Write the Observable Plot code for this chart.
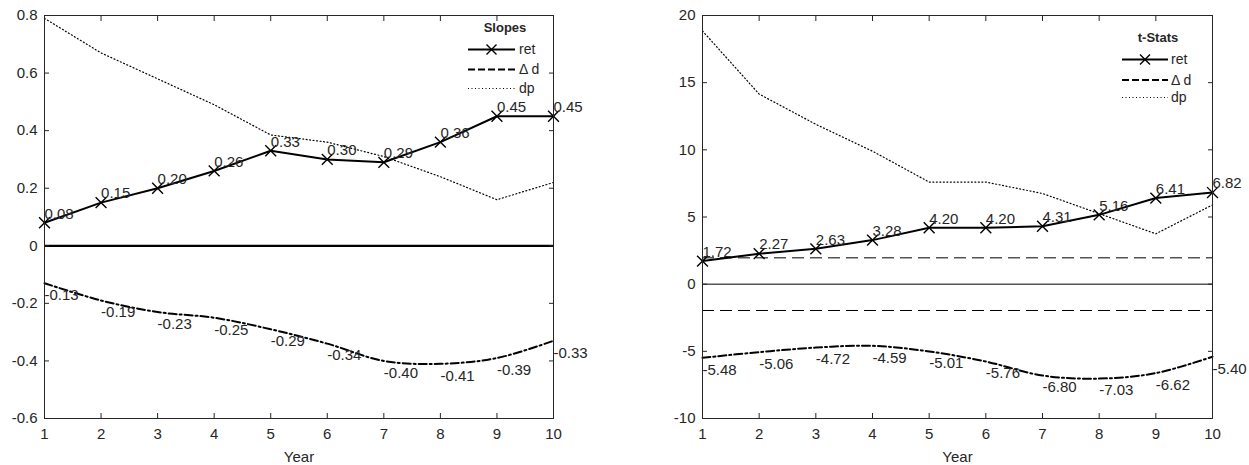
<!DOCTYPE html>
<html>
<head>
<meta charset="utf-8">
<script src="https://cdn.jsdelivr.net/npm/d3@7"></script>
<script src="https://cdn.jsdelivr.net/npm/@observablehq/plot@0.6"></script>
<style>
  html, body { margin: 0; padding: 0; background: #fff; }
  #wrap { position: relative; width: 1249px; height: 465px; overflow: hidden; font-family: "Liberation Sans", Arial, sans-serif; }
  #wrap > svg, #wrap > figure { position: absolute; top: 0; margin: 0; }
</style>
</head>
<body>
<div id="wrap"></div>
<script>
// ---- data ----
const years = [1, 2, 3, 4, 5, 6, 7, 8, 9, 10];

const slopesRet = [0.08, 0.15, 0.20, 0.26, 0.33, 0.30, 0.29, 0.36, 0.45, 0.45];
const slopesDd  = [-0.13, -0.19, -0.23, -0.25, -0.29, -0.34, -0.40, -0.41, -0.39, -0.33];
const slopesDp  = [0.79, 0.67, 0.58, 0.49, 0.385, 0.36, 0.31, 0.24, 0.16, 0.22];

const tRet = [1.72, 2.27, 2.63, 3.28, 4.20, 4.20, 4.31, 5.16, 6.41, 6.82];
const tDd  = [-5.48, -5.06, -4.72, -4.59, -5.01, -5.76, -6.80, -7.03, -6.62, -5.40];
const tDp  = [18.85, 14.15, 11.9, 9.9, 7.6, 7.6, 6.75, 5.25, 3.75, 5.9];

const tCritical = [-1.96, 1.96];

const slopesTicks = [-0.6, -0.4, -0.2, 0, 0.2, 0.4, 0.6, 0.8];
const tTicks = [-10, -5, 0, 5, 10, 15, 20];

const legendTitles = ["Slopes", "t-Stats"];
const legendLabels = ["ret", "\u0394 d", "dp"];

// ---- helpers ----
const ink = "#262626";
const fmt2 = v => v.toFixed(2);               // hyphen-minus like the source
const fmtTick = v => String(+(+v).toFixed(1));

function panel({ret, dd, dp, yDomain, yTicks, zeroWidth, crit, width, marginLeft, marginRight}) {
  const rows = years.map((x, i) => ({x, ret: ret[i], dd: dd[i], dp: dp[i]}));
  return Plot.plot({
    width, height: 465,
    marginTop: 15, marginBottom: 47, marginLeft, marginRight,
    style: {fontFamily: "'Liberation Sans', Arial, sans-serif", fontSize: "15px", color: ink, background: "transparent", overflow: "visible"},
    x: {domain: [1, 10]},
    y: {domain: yDomain},
    marks: [
      Plot.ruleY([0], {stroke: "black", strokeWidth: zeroWidth}),
      crit ? Plot.ruleY(crit, {stroke: "black", strokeWidth: 1, strokeDasharray: "12,6"}) : null,
      Plot.line(rows, {x: "x", y: "dp", stroke: "black", strokeWidth: 1.2, strokeDasharray: "1,2.5"}),
      Plot.line(rows, {x: "x", y: "dd", stroke: "black", strokeWidth: 2, strokeDasharray: "8,3,2,3", curve: "catmull-rom"}),
      Plot.line(rows, {x: "x", y: "ret", stroke: "black", strokeWidth: 2}),
      Plot.dot(rows, {x: "x", y: "ret", symbol: "times", r: 5, stroke: "black", strokeWidth: 1.4}),
      Plot.text(rows, {x: "x", y: "ret", text: d => fmt2(d.ret), textAnchor: "start", dy: -9, dx: 0, fill: ink, fontSize: 15}),
      Plot.text(rows, {x: "x", y: "dd", text: d => fmt2(d.dd), textAnchor: "start", dy: 12, dx: 0, fill: ink, fontSize: 15}),
      Plot.frame({stroke: ink}),
      Plot.axisX({ticks: years, tickSize: 0, tickPadding: 10, tickFormat: d => String(d), label: null, fontSize: 15}),
      Plot.axisX({ticks: [], label: "Year", labelAnchor: "center", labelOffset: 43, labelArrow: "none", fontSize: 15}),
      Plot.axisX({anchor: "bottom", ticks: years, tickSize: -5, tickFormat: () => "", label: null, stroke: ink}),
      Plot.axisX({anchor: "top", ticks: years, tickSize: -5, tickFormat: () => "", label: null, stroke: ink}),
      Plot.axisY({ticks: yTicks, tickSize: 0, tickPadding: 7, tickFormat: fmtTick, label: null, fontSize: 15}),
      Plot.axisY({anchor: "left", ticks: yTicks, tickSize: -5, tickFormat: () => "", label: null, stroke: ink}),
      Plot.axisY({anchor: "right", ticks: yTicks, tickSize: -5, tickFormat: () => "", label: null, stroke: ink})
    ].filter(Boolean)
  });
}

const wrap = document.getElementById("wrap");

const left = panel({ret: slopesRet, dd: slopesDd, dp: slopesDp, yDomain: [-0.6, 0.8], yTicks: slopesTicks,
  zeroWidth: 2.2, crit: null, width: 640, marginLeft: 44, marginRight: 87});
left.style.left = "0px";
wrap.appendChild(left);

const right = panel({ret: tRet, dd: tDd, dp: tDp, yDomain: [-10, 20], yTicks: tTicks,
  zeroWidth: 1, crit: tCritical, width: 609, marginLeft: 62, marginRight: 37});
right.style.left = "640px";
wrap.appendChild(right);

// ---- legends (overlay) ----
const overlay = d3.select(wrap).append("svg")
  .attr("width", 1249).attr("height", 465)
  .style("position", "absolute").style("left", "0px").style("top", "0px")
  .style("pointer-events", "none")
  .style("font-family", "'Liberation Sans', Arial, sans-serif");

const legendSpecs = [
  {title: legendTitles[0], titleX: 505, titleY: 27.5, x0: 468, x1: 515, tx: 519, rows: [49.5, 69.5, 88.5]},
  {title: legendTitles[1], titleX: 1158, titleY: 37, x0: 1122, x1: 1168, tx: 1171, rows: [59.5, 80, 97.5]}
];
const styles = [
  {w: 2, dash: null, marker: true},
  {w: 2, dash: "7,3", marker: false},
  {w: 1.2, dash: "1,2.5", marker: false}
];
for (const s of legendSpecs) {
  const g = overlay.append("g");
  g.append("text").attr("x", s.titleX).attr("y", s.titleY).attr("dy", "0.35em")
    .attr("text-anchor", "middle").attr("font-weight", "bold").attr("font-size", 13)
    .attr("fill", ink).text(s.title);
  legendLabels.forEach((lab, i) => {
    const y = s.rows[i], st = styles[i];
    const ln = g.append("line").attr("x1", s.x0).attr("x2", s.x1).attr("y1", y).attr("y2", y)
      .attr("stroke", "black").attr("stroke-width", st.w);
    if (st.dash) ln.attr("stroke-dasharray", st.dash);
    if (st.marker) {
      const cx = (s.x0 + s.x1) / 2;
      g.append("path").attr("d", `M${cx-5},${y-5}L${cx+5},${y+5}M${cx-5},${y+5}L${cx+5},${y-5}`)
        .attr("stroke", "black").attr("stroke-width", 1.4).attr("fill", "none");
    }
    g.append("text").attr("x", s.tx).attr("y", y).attr("dy", "0.35em").attr("font-size", 14)
      .attr("fill", ink).text(lab);
  });
}
</script>
</body>
</html>
